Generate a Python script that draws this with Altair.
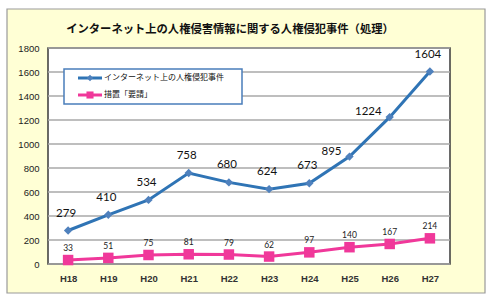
import altair as alt
import pandas as pd

# Fiscal years (Heisei era)
years = ["H18", "H19", "H20", "H21", "H22", "H23", "H24", "H25", "H26", "H27"]
# Human-rights violation cases involving online information
cases = [279, 410, 534, 758, 680, 624, 673, 895, 1224, 1604]
# Cases handled by "request" measures
requests = [33, 51, 75, 81, 79, 62, 97, 140, 167, 214]
series_names = ["インターネット上の人権侵犯事件", "措置「要請」"]
y_ticks = [0, 200, 400, 600, 800, 1000, 1200, 1400, 1600, 1800]
title_text = "インターネット上の人権侵害情報に関する人権侵犯事件（処理）"

BLUE = "#2F74B5"
BLUE_PT = "#4F81BD"
PINK = "#F0389A"
W, H = 402, 216

df_cases = pd.DataFrame({"year": years, "value": cases})
df_req = pd.DataFrame({"year": years, "value": requests})
df_ticks = pd.DataFrame({"tick": y_ticks})

x_enc = alt.X(
    "year:N",
    sort=years,
    scale=alt.Scale(type="point", padding=0.5),
    axis=alt.Axis(
        title=None, labelAngle=0, ticks=False, domain=False, zindex=1,
        labelFont="Liberation Sans", labelFontSize=9.5, labelFontWeight="bold",
        labelColor="#333333", labelPadding=9,
    ),
)
y_scale = alt.Scale(domain=[0, 1800], nice=False)
y_axis = alt.Axis(
    title=None, values=y_ticks, grid=False, ticks=False, domain=False, zindex=1,
    format="d", labelOverlap=False,
    labelFont="Liberation Sans", labelFontSize=9.5, labelColor="#222222",
    labelPadding=9,
)
y_enc = alt.Y("value:Q", scale=y_scale, axis=y_axis)

# Yellow outer frame and white plotting area
frame = alt.Chart(pd.DataFrame({"a": [0]})).mark_rect(
    fill="#FFFFD5", stroke="#9A9A9A", strokeWidth=1.2
).encode(
    x=alt.value(-41), x2=alt.value(437), y=alt.value(-39), y2=alt.value(245)
)
plot_bg = alt.Chart(pd.DataFrame({"a": [0]})).mark_rect(
    fill="white", stroke="#3A3A3A", strokeWidth=1.5
).encode(x=alt.value(0), x2=alt.value(W), y=alt.value(0), y2=alt.value(H))

title = alt.Chart(pd.DataFrame({"t": [title_text]})).mark_text(
    font="Noto Sans CJK JP", fontSize=11.3, fontWeight="bold",
    color="#111111", align="center", baseline="middle",
).encode(text="t:N", x=alt.value(182), y=alt.value(-18))

grid = alt.Chart(df_ticks).mark_rule(color="#A8A8A8", strokeWidth=1.5).encode(
    y=alt.Y("tick:Q", scale=y_scale, axis=y_axis)
)

base_c = alt.Chart(df_cases)
base_r = alt.Chart(df_req)

line_c = base_c.mark_line(color=BLUE, strokeWidth=3).encode(x=x_enc, y=y_enc)
pts_c = base_c.mark_point(
    shape="diamond", filled=True, color=BLUE_PT, size=70, opacity=1
).encode(x=x_enc, y=y_enc)
line_r = base_r.mark_line(color=PINK, strokeWidth=3).encode(x=x_enc, y=y_enc)
pts_r = base_r.mark_point(
    shape="square", filled=True, color=PINK, size=110, opacity=1
).encode(x=x_enc, y=y_enc)

label_font = dict(font="Lato", fontSize=11.5, color="#111111")
left_years = ["H25", "H26"]
lab_c = base_c.transform_filter(
    alt.FieldOneOfPredicate(field="year", oneOf=[y for y in years if y not in left_years])
).mark_text(dy=-17, dx=-2, baseline="middle", align="center", **label_font).encode(
    x=x_enc, y=y_enc, text="value:Q"
)
lab_c_left = base_c.transform_filter(
    alt.FieldOneOfPredicate(field="year", oneOf=left_years)
).mark_text(dy=-5, dx=-8, baseline="middle", align="right", **label_font).encode(
    x=x_enc, y=y_enc, text="value:Q"
)
lab_r = base_r.mark_text(
    dy=-12, font="Lato", fontSize=8.5, color="#222222", baseline="middle"
).encode(x=x_enc, y=y_enc, text="value:Q")

# Legend box
one = pd.DataFrame({"a": [0]})
leg_box = alt.Chart(one).mark_rect(
    fill="white", stroke="#4A7EBB", strokeWidth=1.5
).encode(x=alt.value(16), x2=alt.value(194), y=alt.value(21), y2=alt.value(56))
legend_layers = [leg_box]
for name, col, ptcol, shp, sz, yy in [
    (series_names[0], BLUE, BLUE_PT, "diamond", 40, 30),
    (series_names[1], PINK, PINK, "square", 50, 47),
]:
    legend_layers.append(
        alt.Chart(one).mark_rule(color=col, strokeWidth=3).encode(
            x=alt.value(30), x2=alt.value(54), y=alt.value(yy)
        )
    )
    legend_layers.append(
        alt.Chart(one).mark_point(shape=shp, filled=True, color=ptcol, size=sz, opacity=1).encode(
            x=alt.value(42), y=alt.value(yy)
        )
    )
    legend_layers.append(
        alt.Chart(pd.DataFrame({"t": [name]})).mark_text(
            font="Noto Sans CJK JP", fontSize=8, color="#111111",
            align="left", baseline="middle",
        ).encode(text="t:N", x=alt.value(56), y=alt.value(yy))
    )

chart = alt.layer(
    frame, plot_bg, title, grid,
    line_c, line_r, pts_c, pts_r,
    lab_c, lab_c_left, lab_r,
    *legend_layers,
).properties(
    width=W, height=H,
    autosize=alt.AutoSizeParams(type="none"),
    padding={"left": 48, "top": 48, "right": 40, "bottom": 36},
    background="white",
).configure_view(stroke=None)

chart.save("out.html", embed_options={"renderer": "svg", "actions": False})
